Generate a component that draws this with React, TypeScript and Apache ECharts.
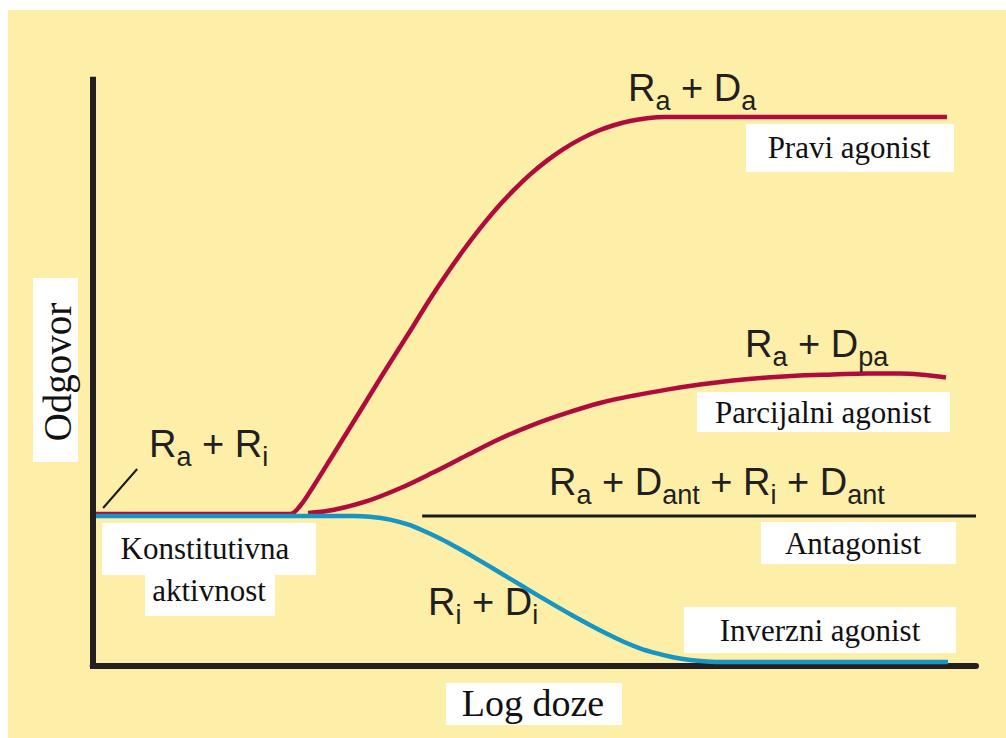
import React, { useEffect, useRef } from "react";
import * as echarts from "echarts";

// ---- data (x: log dose 0..100, y: response 0..100) ----
const praviX = [0.37, 22.34, 23.47, 24.94, 27.2, 29.13, 31.05, 32.86, 34.79, 36.26, 38.19, 40.11, 41.92, 43.85, 45.77, 47.58, 49.5, 51.43, 53.24, 55.17, 57.09, 58.9, 60.83, 62.75, 64.79, 66.5, 96.71];
const praviY = [25.93, 25.93, 27.29, 30.53, 35.99, 40.68, 45.37, 49.8, 54.41, 57.91, 62.6, 66.95, 70.82, 74.64, 78.12, 81.03, 83.81, 86.2, 88.13, 89.82, 91.2, 92.19, 92.96, 93.44, 93.64, 93.64, 93.64];

const parcX = [24.38, 27.2, 31.05, 34.79, 38.53, 42.37, 46.11, 49.85, 53.7, 57.43, 61.17, 65.01, 68.76, 72.49, 76.33, 80.07, 83.81, 87.66, 91.39, 96.6];
const parcY = [26.1, 26.61, 28.11, 30.31, 33.0, 35.95, 38.77, 41.14, 43.17, 44.86, 46.1, 47.14, 48.0, 48.68, 49.21, 49.55, 49.72, 49.89, 49.89, 49.21];

const inverzX = [0.37, 29.47, 31.39, 33.66, 35.58, 37.38, 39.32, 41.24, 43.05, 44.98, 46.9, 48.71, 50.63, 52.56, 54.37, 56.29, 58.22, 60.03, 61.95, 63.88, 65.69, 67.62, 69.54, 71.36, 96.83];
const inverzY = [25.58, 25.58, 25.44, 24.96, 24.18, 23.11, 21.75, 20.21, 18.66, 16.95, 15.21, 13.57, 11.83, 10.12, 8.57, 7.0, 5.49, 4.18, 3.02, 2.15, 1.5, 1.03, 0.77, 0.67, 0.67];

const antagX = [37.3, 100];
const antagY = [25.58, 25.58];

const pointerX = [1.18, 5.03];
const pointerY = [26.95, 33.6];

// ---- texts ----
const formulaRaDa: [string, boolean][] = [["R", false], ["a", true], [" + D", false], ["a", true]];
const formulaRaDpa: [string, boolean][] = [["R", false], ["a", true], [" + D", false], ["pa", true]];
const formulaAnt: [string, boolean][] = [["R", false], ["a", true], [" + D", false], ["ant", true], [" + R", false], ["i", true], [" + D", false], ["ant", true]];
const formulaRiDi: [string, boolean][] = [["R", false], ["i", true], [" + D", false], ["i", true]];
const formulaRaRi: [string, boolean][] = [["R", false], ["a", true], [" + R", false], ["i", true]];

const boxTexts = ["Pravi agonist", "Parcijalni agonist", "Antagonist", "Inverzni agonist", "Konstitutivna", "aktivnost"];
const yAxisTitle = "Odgovor";
const xAxisTitle = "Log doze";

const OX = 8;
const OY = 10;
const SANS = '"Liberation Sans", Arial, Helvetica, sans-serif';
const SERIF = '"Liberation Serif", "Times New Roman", serif';
const INK = "#231f20";
const RED = "#b00b3d";
const BLUE = "#1795c3";
const YELLOW = "#fdeea8";

function zip(xs: number[], ys: number[]) {
  return xs.map((x, i) => [x, ys[i]]);
}

function richLabel(parts: [string, boolean][], left: number, baseline: number) {
  const text = parts.map(([t, sub]) => `{${sub ? "s" : "m"}|${t}}`).join("");
  return {
    type: "text",
    x: left - OX,
    y: baseline - OY - 34,
    z: 20,
    style: {
      text,
      align: "left",
      verticalAlign: "top",
      textAlign: "left",
      textVerticalAlign: "top",
      fill: INK,
      rich: {
        m: { fontSize: 38, fontFamily: SANS, lineHeight: 42, fill: INK },
        s: { fontSize: 27, fontFamily: SANS, lineHeight: 42, verticalAlign: "top", padding: [20, 0, 0, 0], fill: INK },
      },
    },
  };
}

function boxLabel(text: string, bx: number, by: number, bw: number, bh: number, cx: number, cy: number, size: number, rotation = 0) {
  return [
    { type: "rect", z: 10, shape: { x: bx - OX, y: by - OY, width: bw, height: bh }, style: { fill: "#ffffff" } },
    {
      type: "text",
      z: 11,
      x: cx - OX,
      y: cy - OY,
      rotation,
      style: {
        text,
        font: `${size}px ${SERIF}`,
        fill: "#111111",
        align: "center",
        verticalAlign: "middle",
        textAlign: "center",
        textVerticalAlign: "middle",
      },
    },
  ];
}

export default function App() {
  const ref = useRef<HTMLDivElement>(null);
  useEffect(() => {
    document.body.style.margin = "0";
    if (!ref.current) return;
    const chart = echarts.init(ref.current, undefined, { renderer: "svg" });
    const lineSeries = (name: string, data: number[][], color: string, width: number) => ({
      name,
      type: "line",
      data,
      showSymbol: false,
      symbol: "none",
      smooth: 0.35,
      lineStyle: { color, width, cap: "butt" },
      silent: true,
    });
    chart.setOption({
      animation: false,
      backgroundColor: YELLOW,
      grid: { left: 84.7, top: 69.7, right: 30, bottom: 72 },
      xAxis: {
        type: "value",
        min: 0,
        max: 100,
        axisLine: { show: true, onZero: false, lineStyle: { color: INK, width: 6 } },
        axisTick: { show: false },
        axisLabel: { show: false },
        splitLine: { show: false },
      },
      yAxis: {
        type: "value",
        min: 0,
        max: 100,
        axisLine: { show: true, onZero: false, lineStyle: { color: INK, width: 6, cap: "square" } },
        axisTick: { show: false },
        axisLabel: { show: false },
        splitLine: { show: false },
      },
      series: [
        lineSeries("Pravi agonist", zip(praviX, praviY), RED, 4.5),
        lineSeries("Parcijalni agonist", zip(parcX, parcY), RED, 4.5),
        lineSeries("Inverzni agonist", zip(inverzX, inverzY), BLUE, 4.5),
        lineSeries("Antagonist", zip(antagX, antagY), "#1a1a1a", 3),
        lineSeries("pointer", zip(pointerX, pointerY), "#1a1a1a", 2),
      ],
      graphic: [
        richLabel(formulaRaDa, 628, 101),
        richLabel(formulaRaDpa, 745, 357),
        richLabel(formulaAnt, 549, 495),
        richLabel(formulaRiDi, 428, 615),
        richLabel(formulaRaRi, 149, 457),
        ...boxLabel(boxTexts[0], 746, 124, 208, 48, 849, 147, 31),
        ...boxLabel(boxTexts[1], 697, 392, 253, 40, 823, 412, 31),
        ...boxLabel(boxTexts[2], 761, 522, 195, 42, 853, 543, 31),
        ...boxLabel(boxTexts[3], 684, 607, 272, 46, 820, 630, 31),
        ...boxLabel(boxTexts[4], 102, 523, 214, 52, 205, 548, 31),
        ...boxLabel(boxTexts[5], 145, 575, 130, 41, 209, 590, 31),
        ...boxLabel(yAxisTitle, 33, 278, 45, 184, 57, 372, 39, Math.PI / 2),
        ...boxLabel(xAxisTitle, 446, 683, 176, 42, 533, 703, 38),
      ],
    });
    return () => chart.dispose();
  }, []);
  return (
    <div style={{ position: "relative", width: 1006, height: 738, background: "#ffffff", overflow: "hidden" }}>
      <div ref={ref} style={{ position: "absolute", left: OX, top: OY, width: 998, height: 728 }} />
    </div>
  );
}
